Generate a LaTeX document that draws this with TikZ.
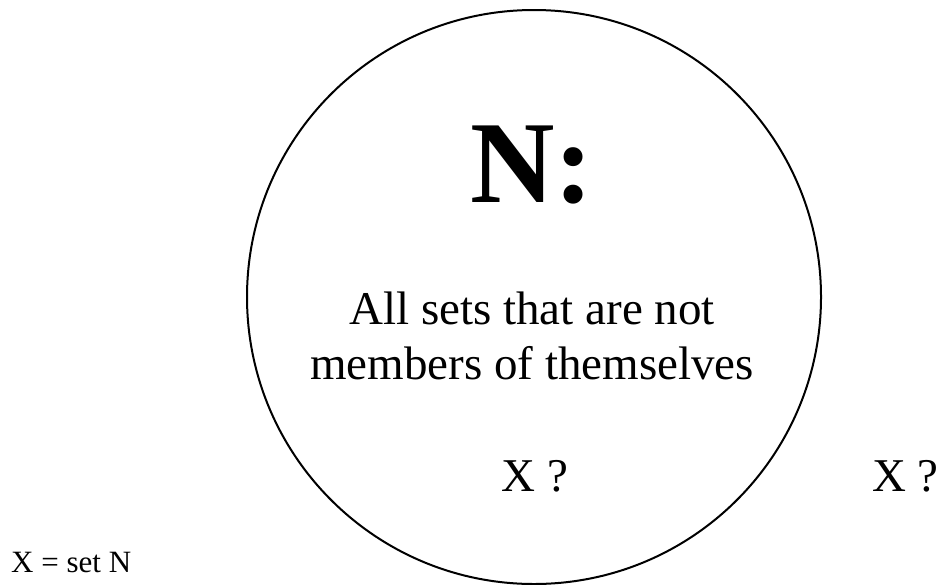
\documentclass[tikz,border=0pt]{standalone}
\usepackage{fontspec}
\setmainfont{Liberation Serif}
\usepackage{tikz}
\usetikzlibrary{positioning}
\newcommand{\setsize}[1]{\fontsize{#1}{#1}\selectfont}

\begin{document}
\begin{tikzpicture}[x=1pt,y=-1pt,line cap=round,line join=round,
 label text/.style={inner sep=0pt,anchor=base,font=\setsize{47}}]
\useasboundingbox (0,0) rectangle (941,584);
\draw[line width=2pt] (534,297) circle (287);
\node[inner sep=0pt,anchor=base,font=\setsize{117}\bfseries] (title) at (532,202) {N:};
\node[label text] (lineone) at (532,324) {All sets that are not};
\node[label text] (linetwo) at (532,379) {members of themselves};
\node[label text] (xin) at (535,491) {X ?};
\node[label text,anchor=base west] (xout) at (872,491) {X ?};
\node[inner sep=0pt,anchor=base west,font=\setsize{31}] (setn) at (11,572) {X = set N};
\end{tikzpicture}
\end{document}
